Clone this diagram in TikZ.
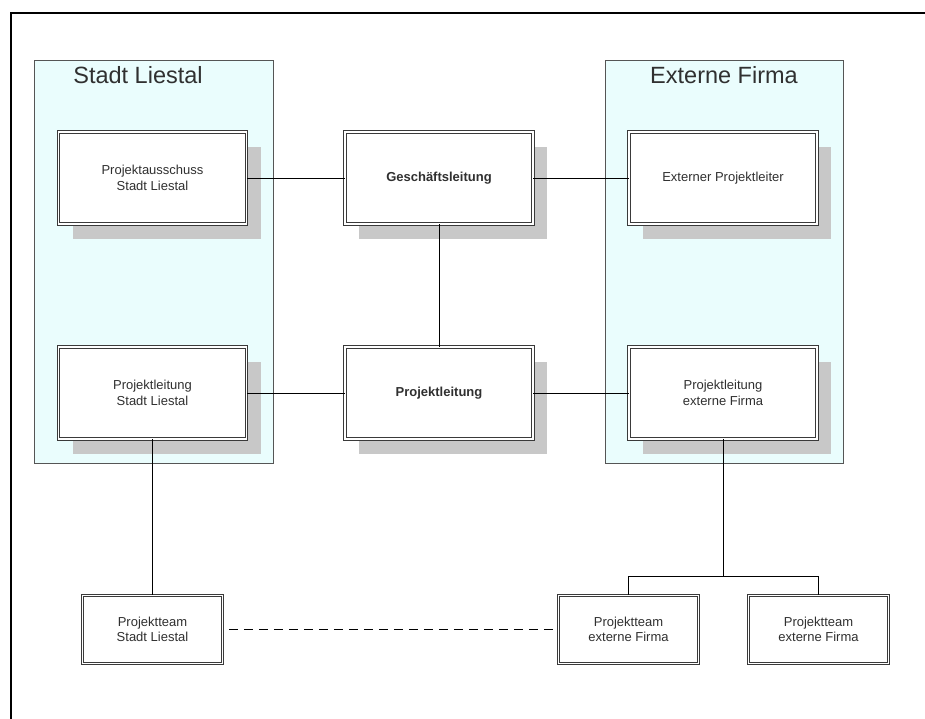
\documentclass[tikz,border=0pt]{standalone}
\usepackage{fontspec}
\setmainfont{Liberation Sans}
\usetikzlibrary{shadows}
\definecolor{contfill}{HTML}{EAFDFD}
\definecolor{contline}{HTML}{555555}
\definecolor{boxline}{HTML}{3A3A3A}
\definecolor{txt}{HTML}{303030}
\definecolor{shade}{HTML}{C8C8C8}
\begin{document}
\begin{tikzpicture}[x=1pt,y=-1pt,
  container/.style={draw=contline,fill=contfill,line width=0.9pt},
  title/.style={font=\fontsize{23.5}{28}\selectfont,text=txt,inner sep=0pt},
  orgbox/.style={draw=boxline,fill=white,double=white,double distance=1.6pt,line width=0.8pt,
     align=center,text=txt,font=\fontsize{13}{15.5}\selectfont,inner sep=2pt},
  big/.style={orgbox,minimum width=188pt,minimum height=92pt},
  small/.style={orgbox,minimum width=140pt,minimum height=68pt},
  shd/.style={drop shadow={shadow xshift=14pt,shadow yshift=-15pt,fill=shade,opacity=1}},
  conn/.style={draw=black,line width=0.8pt},
  dashconn/.style={draw=black,line width=1pt,dash pattern=on 9pt off 6pt}]
\useasboundingbox (0,0) rectangle (925,718);
\fill[white] (0,0) rectangle (925,718);
% outer frame
\draw[line width=2.6pt,black] (926,13) -- (11,13) -- (11,719);
% containers
\path[container] (34,60) rectangle (273,463);
\path[container] (605,60) rectangle (843,463);
\node[title] (tl) at (138,75) {Stadt Liestal};
\node[title] (tr) at (724,75) {Externe Firma};
% boxes
\node[big,shd] (pa)  at (152.5,178) {Projektausschuss\\Stadt Liestal};
\node[big,shd] (gl)  at (439,178) {\textbf{Geschäftsleitung}};
\node[big,shd] (ep)  at (723,178) {Externer Projektleiter};
\node[big,shd] (pls) at (152.5,393) {Projektleitung\\Stadt Liestal};
\node[big,shd] (pl)  at (439,393) {\textbf{Projektleitung}};
\node[big,shd] (ple) at (723,393) {Projektleitung\\externe Firma};
\node[small] (pts)  at (152.5,629.5) {Projektteam\\Stadt Liestal};
\node[small] (pte1) at (628.5,629.5) {Projektteam\\externe Firma};
\node[small] (pte2) at (818.5,629.5) {Projektteam\\externe Firma};
\coordinate (j) at (723,576);
% connectors
\draw[conn] (pa) -- (gl);
\draw[conn] (gl) -- (ep);
\draw[conn] (gl) -- (pl);
\draw[conn] (pls) -- (pl);
\draw[conn] (pl) -- (ple);
\draw[conn] (pls) -- (pts);
\draw[conn] (ple) -- (j);
\draw[conn] (j) -| (pte1.north);
\draw[conn] (j) -| (pte2.north);
\draw[dashconn,shorten <=6pt,shorten >=4pt] (pts) -- (pte1);
\end{tikzpicture}
\end{document}
